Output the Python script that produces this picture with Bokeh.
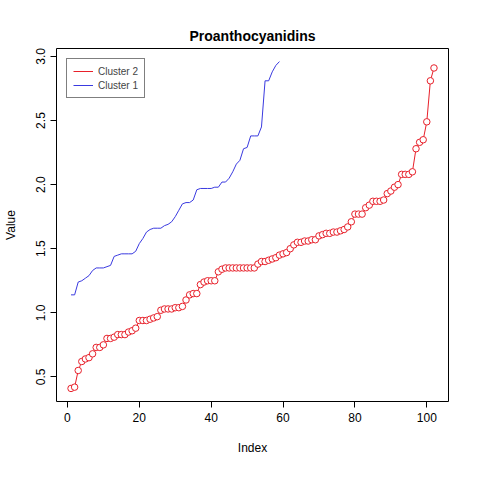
from bokeh.plotting import figure
from bokeh.models import Range1d, Legend, LegendItem
from bokeh.embed import file_html
from bokeh.resources import INLINE

cluster2 = [0.41, 0.42, 0.55, 0.62, 0.64, 0.65, 0.68, 0.73, 0.73, 0.75,
            0.80, 0.80, 0.81, 0.83, 0.83, 0.83, 0.85, 0.86, 0.88, 0.94,
            0.94, 0.94, 0.95, 0.96, 0.97, 1.02, 1.03, 1.03, 1.03, 1.04,
            1.04, 1.05, 1.10, 1.14, 1.15, 1.15, 1.22, 1.24, 1.25, 1.25,
            1.25, 1.32, 1.34, 1.35, 1.35, 1.35, 1.35, 1.35, 1.35, 1.35,
            1.35, 1.35, 1.38, 1.40, 1.40, 1.41, 1.42, 1.43, 1.45, 1.46,
            1.47, 1.50, 1.53, 1.55, 1.55, 1.56, 1.56, 1.57, 1.57, 1.60,
            1.61, 1.62, 1.62, 1.63, 1.63, 1.64, 1.65, 1.67, 1.71, 1.77,
            1.77, 1.77, 1.82, 1.84, 1.87, 1.87, 1.87, 1.88, 1.93, 1.95,
            1.98, 2.00, 2.08, 2.08, 2.08, 2.10, 2.28, 2.33, 2.35, 2.49,
            2.81, 2.91]
cluster1 = [1.14, 1.14, 1.24, 1.25, 1.27, 1.29, 1.33, 1.35, 1.35, 1.35,
            1.36, 1.37, 1.44, 1.45, 1.46, 1.46, 1.46, 1.46, 1.48, 1.54,
            1.58, 1.63, 1.65, 1.66, 1.66, 1.66, 1.68, 1.69, 1.71, 1.75,
            1.80, 1.85, 1.86, 1.86, 1.88, 1.96, 1.97, 1.97, 1.97, 1.97,
            1.98, 1.98, 2.02, 2.02, 2.05, 2.10, 2.16, 2.19, 2.28, 2.29,
            2.38, 2.38, 2.38, 2.45, 2.81, 2.81, 2.88, 2.93, 2.96]
idx2 = list(range(1, len(cluster2) + 1))
idx1 = list(range(1, len(cluster1) + 1))

p = figure(width=464, height=464, output_backend="svg", toolbar_location=None,
           title="Proanthocyanidins", x_axis_label="Index", y_axis_label="Value",
           min_border_left=48, min_border_right=16, min_border_top=48, min_border_bottom=63)
p.x_range = Range1d(-3.04, 106.04)
p.y_range = Range1d(0.308, 3.062)
p.title.align = "center"
p.title.text_font = "Liberation Sans"
p.title.text_font_size = "14px"
p.title.text_font_style = "bold"
p.title.text_color = "black"
p.title.offset = -4
p.outline_line_color = "black"
p.xgrid.grid_line_color = None
p.ygrid.grid_line_color = None
p.xaxis.ticker = [0, 20, 40, 60, 80, 100]
p.yaxis.ticker = [0.5, 1.0, 1.5, 2.0, 2.5, 3.0]
p.yaxis.major_label_overrides = {0.5: "0.5", 1.0: "1.0", 1.5: "1.5", 2.0: "2.0", 2.5: "2.5", 3.0: "3.0"}
p.yaxis.major_label_orientation = "vertical"
for ax in [p.xaxis, p.yaxis]:
    ax.minor_tick_line_color = None
    ax.major_tick_in = 0
    ax.major_tick_out = 6
    ax.axis_line_color = None
    ax.major_label_text_font = "Liberation Sans"
    ax.major_label_text_font_size = "12px"
    ax.major_label_text_color = "black"
    ax.axis_label_text_font = "Liberation Sans"
    ax.axis_label_text_font_size = "12px"
    ax.axis_label_text_font_style = "normal"
    ax.axis_label_text_color = "black"
    ax.axis_label_standoff = 16

l2 = p.line(idx2, cluster2, line_color="#e8202a", line_width=1)
p.scatter(idx2, cluster2, size=6.5, marker="circle", line_color="#e8202a",
          fill_color="white", line_width=1)
l1 = p.line(idx1, cluster1, line_color="#3a3ae0", line_width=1)

legend = Legend(items=[LegendItem(label="Cluster 2", renderers=[l2]),
                       LegendItem(label="Cluster 1", renderers=[l1])],
                location="top_left")
legend.border_line_color = "black"
legend.label_text_font = "Liberation Sans"
legend.label_text_font_size = "10px"
legend.glyph_height = 12
legend.label_height = 12
legend.spacing = 2
legend.margin = 10
legend.padding = 6
p.add_layout(legend)

open("out.html", "w").write(file_html(p, INLINE))
